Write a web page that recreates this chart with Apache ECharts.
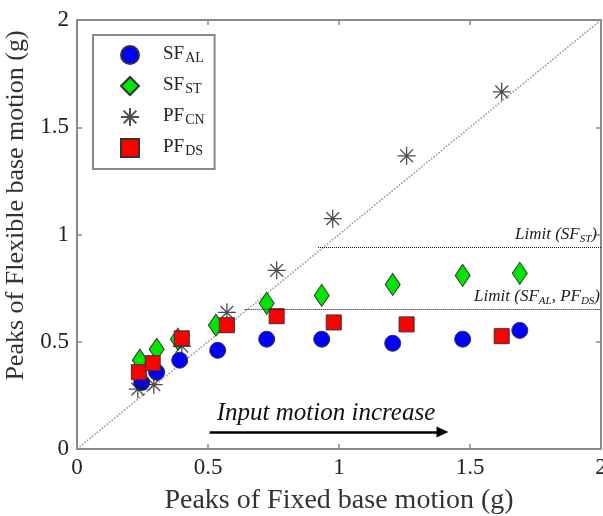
<!DOCTYPE html>
<html>
<head>
<meta charset="utf-8">
<script src="https://cdn.jsdelivr.net/npm/echarts@6/dist/echarts.min.js"></script>
<style>html,body{margin:0;padding:0;background:#fff}#c{width:603px;height:516px}</style>
</head>
<body>
<div id="c"></div>
<script>
// ---- data ----
var sfAL = [[0.247,0.31],[0.304,0.358],[0.392,0.414],[0.537,0.46],[0.724,0.512],[0.934,0.512],[1.205,0.493],[1.472,0.512],[1.69,0.553]];
var sfST = [[0.24,0.414],[0.304,0.465],[0.385,0.512],[0.53,0.577],[0.724,0.679],[0.934,0.716],[1.205,0.767],[1.472,0.809],[1.69,0.819]];
var pfCN = [[0.232,0.279],[0.293,0.3],[0.4,0.479],[0.572,0.637],[0.762,0.833],[0.976,1.074],[1.258,1.367],[1.621,1.665]];
var pfDS = [[0.236,0.358],[0.289,0.4],[0.4,0.516],[0.572,0.577],[0.762,0.619],[0.98,0.59],[1.258,0.581],[1.621,0.526]];
var diagonal = [[0,0],[2,2]];
var limitST = {x0:0.92, x1:2, y:0.94};
var limitAL = {x0:0.64, x1:2, y:0.651};
var arrow = {x0:0.506, x1:1.395, y:0.079};
var axisTicks = [0,0.5,1,1.5,2];
var seriesNames = ['SF_AL','SF_ST','PF_CN','PF_DS'];

var serif = 'Liberation Serif, Times New Roman, serif';
var txt = '#222';
var axisCol = '#8a8a8a';
var asterisk = 'path://M10 0 L10 20 M0 10 L20 10 M2.9 2.9 L17.1 17.1 M17.1 2.9 L2.9 17.1';

var chart = echarts.init(document.getElementById('c'), null, {renderer:'canvas'});

function axisBase(pos, showLabel){
  return {
    type:'value', min:axisTicks[0], max:axisTicks[axisTicks.length-1], interval:0.5, position:pos,
    axisLine:{show:true, onZero:false, lineStyle:{color:axisCol, width:2}},
    axisTick:{show:true, inside:true, length:5, lineStyle:{color:axisCol, width:1.5}},
    axisLabel:{show:showLabel, color:txt, fontFamily:serif, fontSize:23, margin:8},
    splitLine:{show:false}
  };
}
var xMain = axisBase('bottom', true);
xMain.name = 'Peaks of Fixed base motion (g)';
xMain.nameLocation = 'middle'; xMain.nameGap = 38;
xMain.nameTextStyle = {color:'#333', fontFamily:serif, fontSize:28};
xMain.axisLabel.margin = 7;
var yMain = axisBase('left', true);
yMain.name = 'Peaks of Flexible base motion (g)';
yMain.nameLocation = 'middle'; yMain.nameGap = 36;
yMain.nameTextStyle = {color:'#333', fontFamily:serif, fontSize:26, padding:[0,0,0,58]};
yMain.axisLabel.margin = 8;

var legendRich = {
  s:{width:19, fontSize:18, lineHeight:20, verticalAlign:'top'},
  a:{fontFamily:serif, fontSize:19, color:txt, lineHeight:20, verticalAlign:'top'},
  b:{fontFamily:serif, fontSize:14, color:txt, verticalAlign:'bottom', padding:[14,0,0,1], lineHeight:12}
};
var limitRich = {
  a:{fontFamily:serif, fontStyle:'italic', fontSize:17, color:txt},
  b:{fontFamily:serif, fontStyle:'italic', fontSize:11, color:txt, padding:[9,0,0,0]}
};

function scatter(name, data, symbol, size, color){
  return {type:'scatter', name:name, data:data, symbol:symbol, symbolSize:size,
    itemStyle:{color:color, borderColor:'#333', borderWidth:1, opacity:1}, z:3};
}

var option = {
  animation:false,
  backgroundColor:'#fff',
  grid:{left:77, right:2, top:20, bottom:67, containLabel:false, outerBoundsMode:'none'},
  xAxis:[xMain, axisBase('top', false)],
  yAxis:[yMain, axisBase('right', false)],
  legend:{
    orient:'vertical', left:93, top:35, itemWidth:18, itemHeight:18, itemGap:3, itemTextGap:5,
    padding:[2,10,11,27], borderColor:'#888', borderWidth:2, backgroundColor:'#fff',
    data:seriesNames,
    formatter:function(n){var p=n.split('_'); return '{s|}{a|'+p[0]+'}{b|'+p[1]+'}';},
    textStyle:{rich:legendRich}
  },
  series:[
    {type:'line', name:'ref', data:diagonal, symbol:'none', silent:true,
      lineStyle:{color:'#9a9a9a', width:1.6, type:'dotted'}, z:1,
      markLine:{silent:true, symbol:'none', animation:false,
        data:[
          [{coord:[limitST.x0,limitST.y], lineStyle:{color:'#111',width:1,type:'dotted'},
            label:{show:true, position:'insideEndTop', distance:[4,3], formatter:'{a|Limit (SF}{b|ST}{a|)}', rich:limitRich}},
           {coord:[limitST.x1,limitST.y]}],
          [{coord:[limitAL.x0,limitAL.y], lineStyle:{color:'#111',width:1,type:'dotted'},
            label:{show:true, position:'insideEndTop', distance:[1,3], formatter:'{a|Limit (SF}{b|AL}{a|, PF}{b|DS}{a|)}', rich:limitRich}},
           {coord:[limitAL.x1,limitAL.y]}],
          [{coord:[arrow.x0,arrow.y], symbol:'none', lineStyle:{color:'#000',width:2.5,type:'solid'},
            label:{show:true, position:'insideMiddleTop', distance:6, formatter:'Input motion increase',
              fontFamily:serif, fontStyle:'italic', fontSize:25, color:'#111'}},
           {coord:[arrow.x1,arrow.y], symbol:'triangle', symbolSize:[11,12], symbolRotate:-90}]
        ]}
    },
    scatter('SF_AL', sfAL, 'circle', 16, '#0000ff'),
    scatter('SF_ST', sfST, 'diamond', [15,22], '#00e600'),
    {type:'scatter', name:'PF_CN', data:pfCN, symbol:asterisk, symbolSize:18,
      itemStyle:{color:'transparent', borderColor:'#222', borderWidth:1.3}, z:3},
    scatter('PF_DS', pfDS, 'rect', 15, '#ff0000')
  ]
};
chart.setOption(option);
</script>
</body>
</html>
